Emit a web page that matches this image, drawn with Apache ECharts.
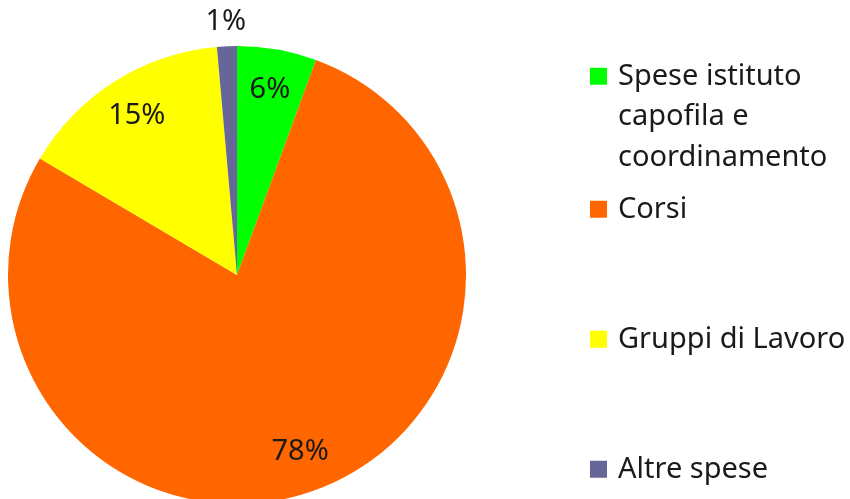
<!DOCTYPE html>
<html>
<head>
<meta charset="utf-8">
<script src="https://cdn.jsdelivr.net/npm/echarts@6/dist/echarts.min.js"></script>
<style>
html, body { margin: 0; padding: 0; background: #fff; }
#main { width: 850px; height: 499px; }
</style>
</head>
<body>
<div id="main"></div>
<script>
// dati del grafico
var categories = ['Spese istituto\ncapofila e\ncoordinamento', 'Corsi', 'Gruppi di Lavoro', 'Altre spese'];
var values = [5.6, 77.9, 15.1, 1.4];
var colors = ['#00ff00', '#ff6600', '#ffff00', '#666699'];

var myChart = echarts.init(document.getElementById('main'));

var data = [];
for (var i = 0; i < categories.length; i++) {
    data.push({ name: categories[i], value: values[i], itemStyle: { color: colors[i] } });
}

var font = '"Noto Sans", "DejaVu Sans", sans-serif';

// dati trasparenti solo per le etichette
var labelData = data.map(function(d, i) {
    return {
        name: d.name, value: d.value,
        itemStyle: { color: 'rgba(0,0,0,0)' },
        label: { show: i < 3 }
    };
});
var outerData = data.map(function(d, i) {
    return {
        name: d.name, value: d.value,
        itemStyle: { color: 'rgba(0,0,0,0)' },
        label: { show: i === 3 }
    };
});

function makeLegend(idx, top) {
    return {
        data: [categories[idx]],
        orient: 'vertical',
        left: 590,
        top: top,
        padding: 0,
        itemWidth: 17,
        itemHeight: 17,
        icon: 'rect',
        selectedMode: false,
        // il quadratino resta sulla prima riga del testo
        formatter: function(name) {
            var n = name.split('\n').length - 1;
            return new Array(n + 1).join('\n') + name;
        },
        textStyle: {
            fontFamily: font,
            fontSize: 29,
            lineHeight: 40.5,
            color: '#1a1a1a',
            padding: [0, 0, 0, 6]
        }
    };
}

var labelStyle = {
    position: 'inside',
    formatter: '{d}%',
    fontFamily: font,
    fontSize: 29,
    color: '#1a1a1a'
};

var option = {
    animation: false,
    backgroundColor: '#fff',
    legend: [
        makeLegend(0, -25),
        makeLegend(1, 189),
        makeLegend(2, 319),
        makeLegend(3, 449)
    ],
    series: [{
        type: 'pie',
        center: [237, 275],
        radius: [0, 229],
        startAngle: 90,
        percentPrecision: 0,
        data: data,
        label: { show: false },
        labelLine: { show: false },
        itemStyle: { borderWidth: 0 }
    }, {
        type: 'pie',
        center: [237, 275],
        radius: [141, 229],
        startAngle: 90,
        percentPrecision: 0,
        silent: true,
        legendHoverLink: false,
        data: labelData,
        label: labelStyle,
        labelLine: { show: false },
        itemStyle: { borderWidth: 0 }
    }, {
        type: 'pie',
        center: [237, 275],
        radius: [229, 272],
        startAngle: 90,
        percentPrecision: 0,
        silent: true,
        legendHoverLink: false,
        data: outerData,
        label: labelStyle,
        labelLine: { show: false },
        itemStyle: { borderWidth: 0 }
    }]
};
myChart.setOption(option);
</script>
</body>
</html>
